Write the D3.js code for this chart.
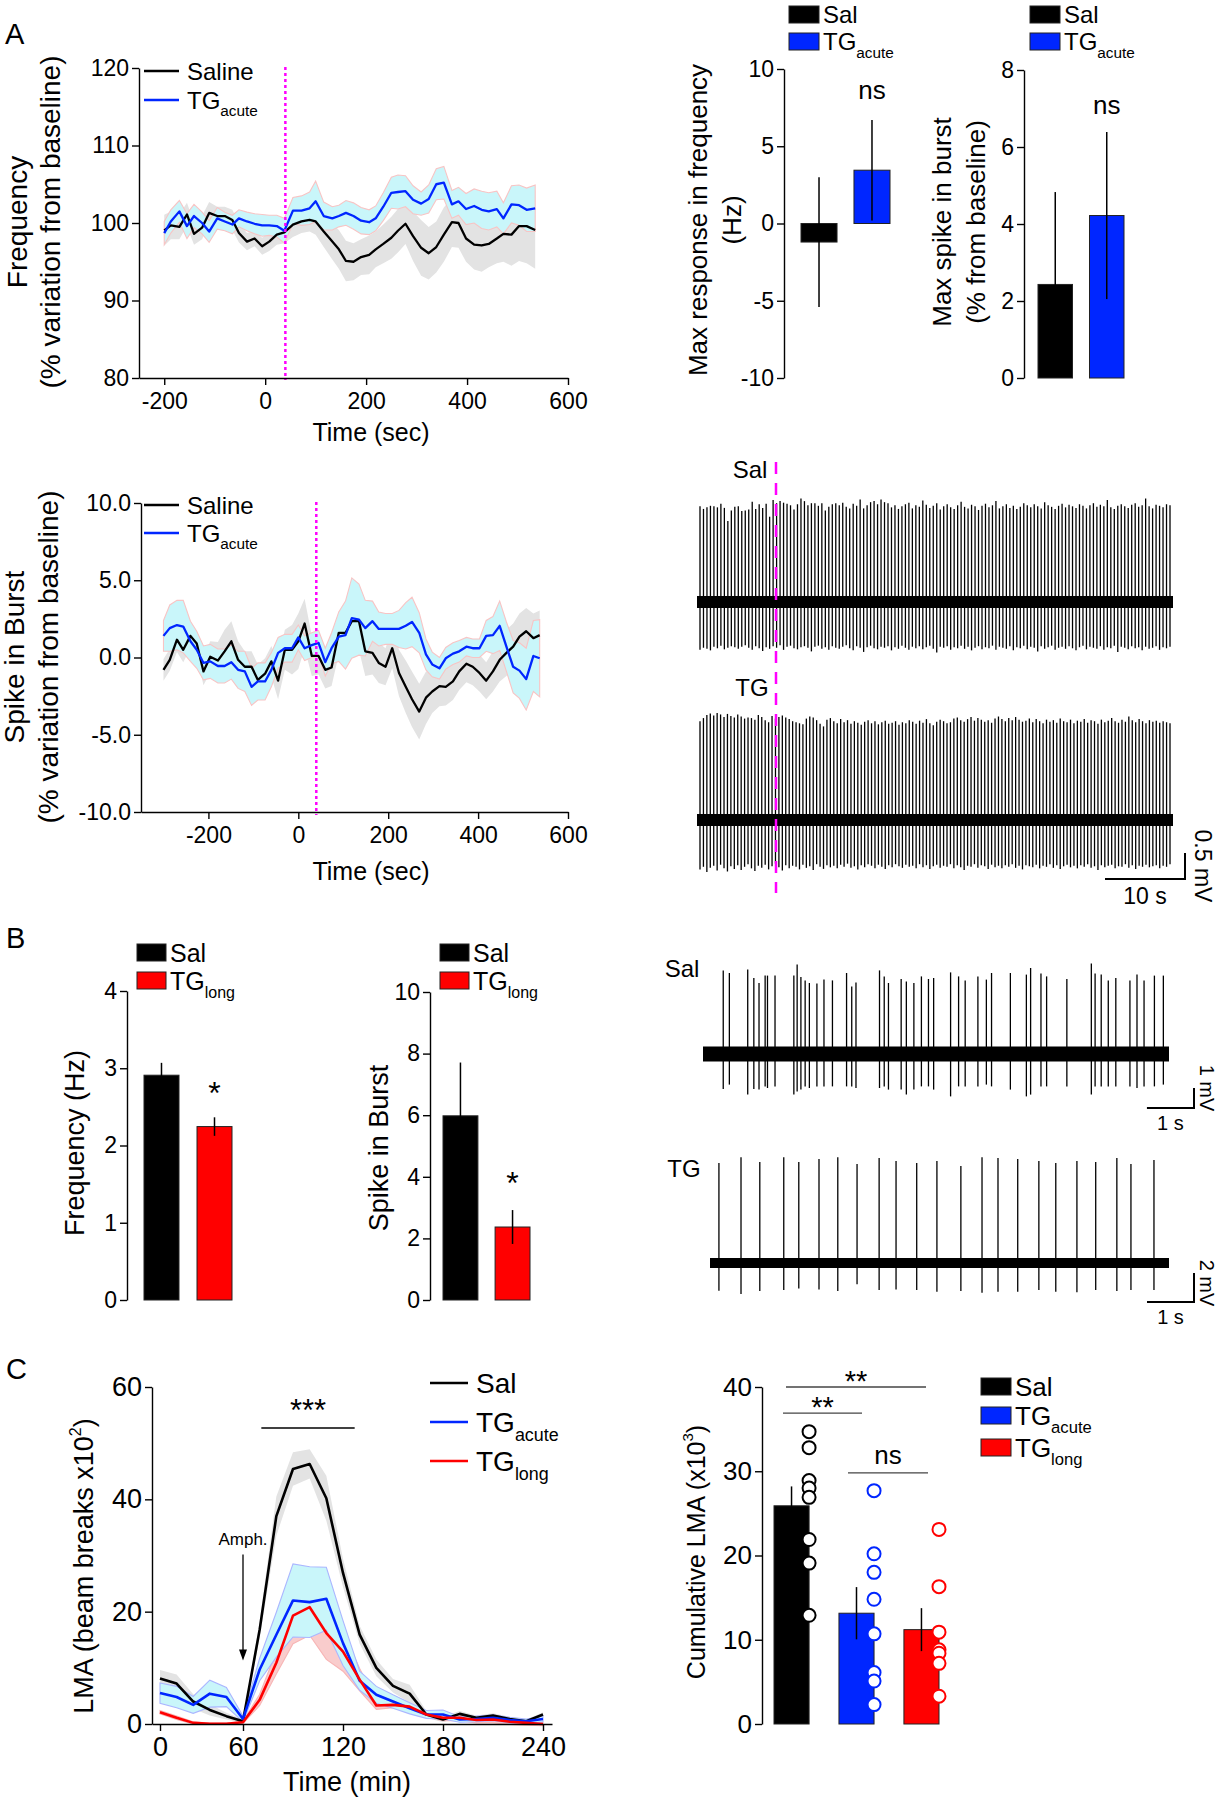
<!DOCTYPE html>
<html>
<head>
<meta charset="utf-8">
<script src="https://cdn.jsdelivr.net/npm/d3@7"></script>
<style>
  body { margin: 0; background: #fff; }
</style>
</head>
<body>
<script>
// ---------- A: time courses (% variation from baseline) ----------
var freqTime = [-200,-187,-170,-155,-141,-125,-111,-95,-80,-65,-52,-36,-21,-6,8,23,38,55,72,88,
  100,116,133,146,160,175,190,206,219,234,250,263,278,293,309,324,339,354,370,383,
  398,414,429,443,459,472,488,503,518,535];
var freqSal = [99.05,99.7,99.5,101.1,98.6,99.4,101.3,100.9,100.9,100.4,98.7,97.6,98.0,97.0,97.6,98.5,98.8,99.8,100.2,100.4,
  100.2,98.9,97.6,96.6,95.1,95.0,95.6,95.9,96.6,97.3,98.1,99.0,99.9,98.3,96.8,96.1,96.9,98.5,100.1,100.0,
  98.0,97.2,97.1,97.3,98.0,98.6,98.5,99.6,99.6,99.1];
var freqSalSem = [2.0,1.8,1.6,1.5,1.4,1.5,1.4,1.2,1.2,1.3,1.2,1.1,1.0,1.1,1.2,1.3,1.4,1.6,1.5,1.5,
  1.7,2.0,2.3,2.5,2.6,2.4,2.3,2.5,2.3,2.5,2.7,2.8,2.6,3.2,3.6,3.4,3.3,3.5,3.2,3.2,
  3.0,3.2,3.4,3.0,3.2,3.6,4.0,4.5,4.8,5.0];
var freqTG = [98.7,100.2,101.5,99.6,100.9,100.0,98.9,100.6,100.2,99.8,100.6,100.2,99.9,99.7,99.7,99.6,99.0,101.6,101.6,101.9,
  102.8,100.9,100.6,100.9,101.3,100.9,100.3,100.1,100.6,102.1,103.9,104.0,104.1,103.0,102.5,103.1,105.0,105.2,102.4,102.8,
  101.8,102.2,101.7,101.5,101.8,100.6,102.4,102.3,101.7,101.9];
var freqTGSem = [1.5,1.5,1.4,1.6,1.5,1.4,1.4,1.4,1.2,1.2,1.1,1.2,1.3,1.4,1.3,1.4,1.6,1.7,1.9,2.1,
  2.6,1.8,1.5,1.4,1.6,1.7,1.7,1.6,1.6,1.8,2.0,2.2,2.0,1.8,1.5,1.8,2.0,2.1,1.8,1.8,
  2.0,2.2,2.4,2.4,2.3,2.0,2.4,2.6,2.8,3.0];

var burstTime = [-300,-286,-270,-256,-240,-226,-211,-196,-179,-164,-149,-134,-119,-104,-90,-74,-60,-45,-30,-14,
  0,14,30,45,60,74,90,105,119,135,149,165,179,194,209,224,239,253,269,284,
  298,314,328,344,358,374,388,403,418,433,448,463,478,492,507,523,537];
var burstSal = [-0.8,-0.15,1.15,0.5,1.4,0.9,-0.9,0.05,-0.2,0.4,1.05,-0.15,-0.6,-0.6,-1.45,-1.05,-0.25,-1.5,0.5,0.5,
  1.05,2.2,0.1,0.1,-0.8,-0.65,1.6,1.6,2.35,2.35,0.4,0.3,-0.35,-0.6,0.6,-1.0,-1.9,-2.7,-3.5,-2.6,
  -2.2,-1.85,-1.9,-1.55,-0.9,-0.4,-0.6,-1.0,-1.5,-0.9,-0.15,0.3,0.7,1.35,1.7,1.25,1.45];
var burstSalSem = [0.7,0.7,0.8,0.8,0.8,0.8,0.9,1.0,1.2,1.4,1.3,1.2,1.0,1.0,1.0,1.0,1.0,1.2,1.3,1.6,
  1.8,1.6,1.3,1.2,1.2,1.2,1.4,1.6,1.8,1.9,1.6,1.4,1.3,1.2,1.3,1.5,1.7,1.8,1.8,1.7,
  1.4,1.3,1.2,1.2,1.2,1.2,1.2,1.2,1.2,1.3,1.4,1.5,1.5,1.5,1.5,1.6,1.6];
var burstTG = [1.4,1.9,2.1,2.0,1.05,0.5,-0.35,-0.25,-0.55,-0.55,-0.3,-0.8,-0.9,-1.9,-1.55,-1.55,-0.8,0.3,0.6,0.6,
  1.3,0.6,0.8,0.95,-0.3,0.6,1.35,1.45,2.55,2.45,1.9,2.35,1.85,1.85,1.85,1.85,2.05,2.3,1.6,0.2,
  -0.45,-0.7,-0.05,0.25,0.4,0.7,0.6,0.6,1.4,1.45,2.05,0.7,-0.6,-0.85,-1.4,0.1,-0.05];
var burstTGSem = [1.0,1.5,1.6,1.7,1.3,1.2,1.1,1.1,1.1,1.1,1.1,1.2,1.3,1.2,1.2,1.2,1.1,1.0,0.9,0.9,
  0.8,0.8,0.8,0.8,0.9,1.0,1.6,2.2,2.6,2.3,1.8,1.3,1.1,1.0,1.0,1.2,1.5,1.6,1.3,1.0,
  0.8,0.7,0.7,0.7,0.7,0.6,0.6,0.6,1.0,1.2,1.6,1.6,1.7,1.8,2.0,2.3,2.5];
var drugOnset = 40;

// ---------- A: max responses ----------
var acuteCats = ["Sal", "TGacute"];
var maxFreqMean = [-1.2, 3.45];
var maxFreqSem = [4.2, 3.25];
var maxBurstMean = [2.43, 4.22];
var maxBurstSem = [2.4, 2.17];

// ---------- A: example recordings (spike amplitudes, mV) ----------
var salA_up = [1.84,1.79,1.82,1.85,1.84,1.82,1.89,1.81,1.56,1.76,1.83,1.84,1.75,1.76,1.78,1.93,1.79,1.88,1.81,1.89,
  1.64,1.96,1.90,1.94,1.91,1.89,1.86,1.78,1.88,1.99,1.94,1.86,1.90,1.90,1.85,1.90,1.76,1.83,1.88,1.90,
  1.86,1.91,1.83,1.80,1.89,1.85,1.97,1.80,1.86,1.92,1.94,1.88,1.97,1.92,1.90,1.82,1.86,1.79,1.84,1.88,
  1.91,1.80,1.86,1.83,1.95,1.87,1.81,1.85,1.90,1.78,1.84,1.88,1.82,1.79,1.86,1.93,1.83,1.80,1.87,1.84,
  1.77,1.85,1.89,1.82,1.86,1.94,1.80,1.84,1.88,1.81,1.85,1.79,1.83,1.90,1.86,1.82,1.88,1.84,1.80,1.92,
  1.86,1.83,1.79,1.85,1.89,1.82,1.87,1.84,1.81,1.88,1.85,1.80,1.86,1.90,1.83,1.87,1.84,1.96,1.82,1.79,
  1.85,1.88,1.84,1.81,1.87,1.90,1.83,1.86,1.99,1.84,1.80,1.87,1.85,1.82,1.88,1.86];
var salA_dn = [0.92,0.88,0.90,0.93,0.86,0.89,0.84,0.91,0.88,0.85,0.87,0.90,0.86,0.83,0.88,0.92,0.85,0.89,0.94,0.87,
  0.90,0.85,0.88,0.83,0.92,0.86,0.84,0.89,0.91,0.87,0.85,0.88,0.95,0.86,0.84,0.90,0.87,0.92,0.85,0.88,
  0.90,0.86,0.83,0.89,0.93,0.85,0.88,0.96,0.87,0.84,0.89,0.91,0.86,0.88,0.85,0.93,0.87,0.90,0.84,0.88,
  0.92,0.86,0.89,0.85,0.91,0.87,0.84,0.90,0.97,0.86,0.88,0.85,0.92,0.87,0.89,0.84,0.90,0.86,0.93,0.88,
  0.85,0.91,0.87,0.89,0.84,0.92,0.86,0.88,0.90,0.85,0.93,0.87,0.89,0.84,0.91,0.86,0.88,0.95,0.85,0.90,
  0.87,0.84,0.92,0.88,0.86,0.90,0.85,0.89,0.93,0.87,0.84,0.91,0.86,0.88,0.90,0.85,0.92,0.87,0.89,0.84,
  0.96,0.86,0.88,0.91,0.85,0.89,0.87,0.93,0.86,0.90,0.88,0.85,0.92,0.87,0.89,0.86];
var tgA_up = [1.90,1.96,2.02,2.05,2.01,2.06,2.03,1.98,2.04,2.00,1.97,2.03,1.99,1.95,1.97,1.96,1.93,2.02,1.98,1.92,
  1.88,2.00,1.95,1.98,2.01,1.97,1.94,1.90,1.88,1.86,1.84,1.95,1.99,1.97,1.92,1.85,1.80,1.93,1.96,1.90,
  1.86,1.94,1.88,1.92,1.85,1.90,1.87,1.83,1.89,1.92,1.86,1.90,1.84,1.88,1.91,1.85,1.87,1.90,1.83,1.88,
  1.86,1.92,1.89,1.85,1.91,1.87,1.94,1.86,1.82,1.89,1.93,1.90,1.86,1.88,1.95,1.97,1.92,1.89,1.94,1.98,
  1.91,1.96,1.93,1.89,1.92,1.87,1.95,1.99,1.94,1.90,1.96,1.92,1.98,1.93,1.89,1.91,1.95,1.88,1.94,1.90,
  1.86,1.93,1.89,1.92,1.87,1.95,1.90,1.88,1.93,1.86,1.91,1.89,1.94,1.87,1.92,1.90,1.85,1.93,1.88,1.91,
  1.96,1.90,1.87,1.93,1.89,1.99,1.92,1.88,1.94,1.90,1.86,1.92,1.89,1.91,1.87,1.90,1.88,1.86];
var tgA_dn = [0.95,0.90,1.00,0.92,0.88,0.97,0.86,0.93,0.99,0.89,0.94,0.87,0.96,0.90,0.85,0.93,0.98,0.88,0.92,0.86,
  0.95,0.89,0.84,0.91,0.97,0.87,0.93,0.88,0.90,0.95,0.86,0.92,0.89,0.96,0.85,0.90,0.94,0.87,0.91,0.88,
  0.93,0.86,0.90,0.84,0.92,0.89,0.95,0.87,0.91,0.85,0.88,0.93,0.86,0.90,0.94,0.87,0.91,0.85,0.89,0.92,
  0.86,0.90,0.88,0.93,0.85,0.91,0.87,0.94,0.89,0.86,0.92,0.88,0.90,0.85,0.93,0.87,0.91,0.96,0.88,0.90,
  0.85,0.92,0.87,0.89,0.94,0.86,0.91,0.88,0.93,0.87,0.90,0.85,0.92,0.88,0.95,0.87,0.89,0.91,0.86,0.93,
  0.88,0.90,0.85,0.92,0.87,0.94,0.89,0.86,0.91,0.88,0.93,0.87,0.90,0.85,0.92,0.89,0.96,0.87,0.91,0.88,
  0.86,0.93,0.89,0.90,0.85,0.92,0.87,0.94,0.88,0.90,0.86,0.91,0.89,0.87,0.93,0.88,0.90,0.85];

// ---------- B: long-term treatment ----------
var longCats = ["Sal", "TGlong"];
var longFreqMean = [2.91, 2.245];
var longFreqSem = [0.16, 0.12];
var longBurstMean = [5.98, 2.37];
var longBurstSem = [1.73, 0.55];

// spike times (s) and amplitudes (mV)
var salB_t = [0.43,0.56,0.95,1.08,1.19,1.32,1.37,1.53,1.93,2.00,2.08,2.17,2.26,2.42,2.57,2.75,3.05,3.16,3.25,3.75,
  3.85,3.94,4.21,4.32,4.48,4.64,4.79,4.90,5.26,5.43,5.57,5.84,6.02,6.13,6.53,6.87,6.96,7.18,7.30,7.73,
  8.25,8.33,8.46,8.61,8.77,9.07,9.22,9.37,9.59,9.78];
var salB_up = [4.18,4.05,4.22,3.80,3.55,3.92,3.92,3.92,3.92,4.47,3.85,3.68,3.55,3.52,3.72,3.68,4.05,3.38,3.58,4.18,
  3.88,3.55,3.75,3.63,3.55,3.88,3.75,3.80,4.08,3.88,3.68,3.88,3.72,4.05,4.05,3.97,4.30,4.02,3.88,3.75,
  4.52,4.02,3.97,3.68,3.80,3.68,3.97,3.68,3.92,3.92];
var salB_dn = [1.75,1.53,2.03,1.75,1.78,1.62,1.70,1.62,2.03,1.87,1.78,1.62,1.70,1.62,1.62,1.62,1.62,1.62,1.70,1.70,
  1.62,1.78,1.78,2.03,1.78,1.62,1.62,1.78,2.12,1.62,1.62,1.62,1.53,1.62,1.78,2.12,2.03,1.62,1.62,1.62,
  2.03,1.62,1.62,1.62,1.62,1.62,1.70,1.62,1.62,1.53];
var tgB_t = [0.19,0.66,1.06,1.57,1.89,2.32,2.72,3.13,3.60,3.96,4.40,4.83,5.34,5.79,6.13,6.55,7.00,7.36,7.81,8.21,
  8.66,8.96,9.45];
var tgB_up = [6.90,7.30,6.97,7.30,6.97,7.17,7.30,6.83,7.24,7.03,6.90,7.03,6.69,7.30,7.24,7.17,7.03,6.90,7.03,6.97,
  7.24,6.83,7.10];
var tgB_dn = [1.91,2.14,1.93,1.86,1.75,1.82,1.93,1.47,1.86,1.82,1.86,1.98,1.93,2.05,1.98,1.98,1.86,1.98,2.02,1.86,
  1.93,1.86,1.86];

// ---------- C: locomotor activity ----------
var lmaTime = [0,12,24,36,48,60,70,80,90,100,110,120,130,140,150,160,170,180,190,200,210,220,230,240];
var lmaSal = [8.1,7.2,4.0,2.5,1.4,0.5,16.8,37,45.4,46.3,40.2,26.9,15.9,10,6.8,5.4,1.7,0.8,1.8,1.1,1.5,0.9,0.5,1.7];
var lmaSalSem = [1.5,1.6,1.3,1.0,0.6,0.3,1.5,3.5,3.0,2.6,4.0,2.5,1.6,1.5,1.2,1.6,0.6,0.5,0.5,0.4,0.4,0.4,0.3,0.4];
var lmaTGa = [5.5,4.8,3.4,5.4,4.8,0.9,9.7,15.9,22.0,21.7,22.3,14.4,7.7,5.2,4.0,2.8,1.7,1.7,0.8,0.9,1.1,0.7,0.5,0.9];
var lmaTGaSem = [1.8,1.9,1.5,2.4,1.7,0.5,2.0,4.0,6.5,6.3,5.6,4.0,1.7,1.5,1.2,1.0,0.7,0.8,0.5,0.5,0.5,0.5,0.4,0.5];
var lmaTGl = [2.1,1.1,0.2,0.05,0.05,0.3,4.3,10.9,19.3,20.8,16.2,12.9,7.9,3.3,3.4,3.1,1.7,1.1,1.1,0.7,0.8,0.4,0.2,0.0];
var lmaTGlSem = [0.3,0.3,0.2,0.1,0.1,0.2,1.0,2.0,5.0,5.0,4.7,3.5,2.0,0.7,0.5,0.5,0.5,0.5,0.5,0.5,0.6,0.5,0.4,0.3];
var lmaTicks = [0, 60, 120, 180, 240];
var sigSpan = [71, 127];
var amphArrow = [30.2, 11.3];

var cumCats = ["Sal", "TGacute", "TGlong"];
var cumMean = [25.9, 13.15, 11.2];
var cumSem = [2.3, 3.1, 2.55];
var cumDots = [
  [34.7, 32.8, 28.9, 28.0, 26.9, 21.9, 19.1, 12.9],
  [27.7, 20.2, 18.0, 14.8, 10.7, 6.1, 5.1, 2.3],
  [23.1, 16.3, 10.9, 8.8, 8.4, 7.2, 3.3]
];

var FONT = '"Liberation Sans", Arial, Helvetica, sans-serif';
var BLUE = "#0026ff", RED = "#ff0000";

var svg = d3.select("body").append("svg")
  .attr("width", 1220).attr("height", 1800)
  .style("font-family", FONT)
  .style("background", "#fff");

function styleAxis(sel, size) {
  sel.style("font-family", FONT).style("font-size", size + "px");
  sel.selectAll("path, line").attr("stroke", "#000").attr("stroke-width", 1.4);
  sel.selectAll("text").attr("fill", "#000");
}

function txt(x, y, s, size, anchor) {
  return svg.append("text").attr("x", x).attr("y", y)
    .attr("text-anchor", anchor || "start")
    .style("font-size", size + "px").text(s);
}

function subTxt(x, y, main, sub, size, anchor) {
  var t = svg.append("text").attr("x", x).attr("y", y)
    .attr("text-anchor", anchor || "start")
    .style("font-size", size + "px");
  t.append("tspan").text(main);
  if (sub) t.append("tspan").attr("dy", size * 0.32).style("font-size", (size * 0.64) + "px").text(sub);
  return t;
}

function vTxt(x, y, s, size) {
  return svg.append("text")
    .attr("transform", "translate(" + x + "," + y + ") rotate(-90)")
    .attr("text-anchor", "middle").attr("dominant-baseline", "central")
    .style("font-size", size + "px").text(s);
}

function band(x, y, times, mean, sem, fill, stroke) {
  var area = d3.area()
    .x(function (d, i) { return x(times[i]); })
    .y0(function (d, i) { return y(mean[i] - sem[i]); })
    .y1(function (d, i) { return y(mean[i] + sem[i]); });
  svg.append("path").datum(mean).attr("d", area)
    .attr("fill", fill).attr("stroke", stroke || "none").attr("stroke-width", 1.1);
}

function line(x, y, times, mean, color, w) {
  var ln = d3.line()
    .x(function (d, i) { return x(times[i]); })
    .y(function (d) { return y(d); });
  svg.append("path").datum(mean).attr("d", ln)
    .attr("fill", "none").attr("stroke", color).attr("stroke-width", w || 2.3)
    .attr("stroke-linejoin", "round");
}

function lineLegend(x, y, len, color, main, sub, size, w) {
  svg.append("line").attr("x1", x).attr("x2", x + len).attr("y1", y).attr("y2", y)
    .attr("stroke", color).attr("stroke-width", w || 2.3);
  subTxt(x + len + 8, y + size * 0.36, main, sub, size);
}

function boxLegend(x, y, w, h, color, main, sub, size) {
  svg.append("rect").attr("x", x).attr("y", y).attr("width", w).attr("height", h)
    .attr("fill", color).attr("stroke", "#222").attr("stroke-width", 1);
  subTxt(x + w + 4, y + h / 2 + size * 0.36, main, sub, size);
}

function bars(x, y, cats, mean, sem, colors) {
  svg.append("g").selectAll("rect").data(cats).enter().append("rect")
    .attr("x", function (d) { return x(d); })
    .attr("width", x.bandwidth())
    .attr("y", function (d, i) { return Math.min(y(mean[i]), y(0)); })
    .attr("height", function (d, i) { return Math.abs(y(mean[i]) - y(0)); })
    .attr("fill", function (d, i) { return colors[i]; })
    .attr("stroke", "#222").attr("stroke-width", 1);
  svg.append("g").selectAll("line").data(cats).enter().append("line")
    .attr("x1", function (d) { return x(d) + x.bandwidth() / 2; })
    .attr("x2", function (d) { return x(d) + x.bandwidth() / 2; })
    .attr("y1", function (d, i) { return y(mean[i] - sem[i]); })
    .attr("y2", function (d, i) { return y(mean[i] + sem[i]); })
    .attr("stroke", "#000").attr("stroke-width", 1.5);
}

function trace(xPos, ups, dns, base, pxPerMv, x0, x1, noiseW) {
  var y = d3.scaleLinear().domain([0, 1]).range([base, base - pxPerMv]);
  svg.append("line").attr("x1", x0).attr("x2", x1).attr("y1", base).attr("y2", base)
    .attr("stroke", "#000").attr("stroke-width", noiseW);
  svg.append("g").selectAll("line").data(ups).enter().append("line")
    .attr("x1", function (d, i) { return xPos(i); })
    .attr("x2", function (d, i) { return xPos(i); })
    .attr("y1", function (d) { return y(d); })
    .attr("y2", function (d, i) { return y(-dns[i]); })
    .attr("stroke", "#000").attr("stroke-width", 1.3);
  return y;
}

function scaleBar(xRight, yBottom, lenX, lenY, labX, labY, tx, ty, size) {
  svg.append("path")
    .attr("d", "M" + (xRight - lenX) + "," + yBottom + "H" + xRight + "V" + (yBottom - lenY))
    .attr("fill", "none").attr("stroke", "#000").attr("stroke-width", 2);
  txt(xRight - lenX / 2, yBottom + size + 2, labX, size, "middle");
  svg.append("text")
    .attr("transform", "translate(" + tx + "," + ty + ") rotate(90)")
    .attr("text-anchor", "middle").attr("dominant-baseline", "central")
    .style("font-size", size + "px").text(labY);
}

var fmtPlain = function (d) { return String(d); };

// ================= Panel A =================
txt(5, 44, "A", 29);

// A1 frequency time course
var xA1 = d3.scaleLinear().domain([-250, 600]).range([139, 568]);
var yA1 = d3.scaleLinear().domain([80, 120]).range([378, 68]);
band(xA1, yA1, freqTime, freqSal, freqSalSem, "#e3e3e3");
band(xA1, yA1, freqTime, freqTG, freqTGSem, "#c9f6fa", "#f8c4c4");
line(xA1, yA1, freqTime, freqSal, "#000");
line(xA1, yA1, freqTime, freqTG, BLUE);
svg.append("line").attr("x1", xA1(drugOnset)).attr("x2", xA1(drugOnset)).attr("y1", 67).attr("y2", 380)
  .attr("stroke", "#ff00ff").attr("stroke-width", 2.5).attr("stroke-dasharray", "3,3");
svg.append("g").attr("transform", "translate(0,378)")
  .call(d3.axisBottom(xA1).tickValues([-200, 0, 200, 400, 600]).tickFormat(fmtPlain).tickSize(7).tickPadding(8).tickSizeOuter(0))
  .call(styleAxis, 23);
svg.append("g").attr("transform", "translate(139,0)")
  .call(d3.axisLeft(yA1).tickValues([80, 90, 100, 110, 120]).tickFormat(fmtPlain).tickSize(7).tickPadding(3).tickSizeOuter(0))
  .call(styleAxis, 23);
txt(371, 441, "Time (sec)", 25, "middle");
vTxt(17, 222, "Frequency", 28);
vTxt(50, 222, "(% variation from baseline)", 28);
lineLegend(144, 71, 35, "#000", "Saline", "", 24);
lineLegend(144, 100, 35, BLUE, "TG", "acute", 24);

// A2 burst time course
var xA2 = d3.scaleLinear().domain([-350, 600]).range([141, 568]);
var yA2 = d3.scaleLinear().domain([-10, 10]).range([812, 503]);
band(xA2, yA2, burstTime, burstSal, burstSalSem, "#e3e3e3");
band(xA2, yA2, burstTime, burstTG, burstTGSem, "#c9f6fa", "#f8c4c4");
line(xA2, yA2, burstTime, burstSal, "#000");
line(xA2, yA2, burstTime, burstTG, BLUE);
svg.append("line").attr("x1", xA2(drugOnset)).attr("x2", xA2(drugOnset)).attr("y1", 502).attr("y2", 815)
  .attr("stroke", "#ff00ff").attr("stroke-width", 2.5).attr("stroke-dasharray", "3,3");
svg.append("g").attr("transform", "translate(0,812)")
  .call(d3.axisBottom(xA2).tickValues([-200, 0, 200, 400, 600]).tickFormat(fmtPlain).tickSize(7).tickPadding(8).tickSizeOuter(0))
  .call(styleAxis, 23);
svg.append("g").attr("transform", "translate(141,0)")
  .call(d3.axisLeft(yA2).tickValues([-10, -5, 0, 5, 10]).tickFormat(function (d) { return d.toFixed(1); }).tickSize(7).tickPadding(3).tickSizeOuter(0))
  .call(styleAxis, 23);
txt(371, 880, "Time (sec)", 25, "middle");
vTxt(14, 657, "Spike in Burst", 28);
vTxt(48, 657, "(% variation from baseline)", 28);
lineLegend(144, 505, 35, "#000", "Saline", "", 24);
lineLegend(144, 533, 35, BLUE, "TG", "acute", 24);

// A3 max response in frequency
var xA3 = d3.scaleBand().domain(acuteCats).range([801, 890]).paddingInner(0.32);
var yA3 = d3.scaleLinear().domain([-10, 10]).range([378, 69]);
bars(xA3, yA3, acuteCats, maxFreqMean, maxFreqSem, ["#000", BLUE]);
svg.append("g").attr("transform", "translate(784,0)")
  .call(d3.axisLeft(yA3).tickValues([-10, -5, 0, 5, 10]).tickFormat(fmtPlain).tickSize(7).tickPadding(3).tickSizeOuter(0))
  .call(styleAxis, 23);
txt(xA3("TGacute") + xA3.bandwidth() / 2, 99, "ns", 26, "middle");
vTxt(698, 220, "Max response in frequency", 26);
vTxt(732, 220, "(Hz)", 26);
boxLegend(789, 6, 30, 17, "#000", "Sal", "", 24);
boxLegend(789, 33, 30, 17, BLUE, "TG", "acute", 24);

// A4 max spike in burst
var xA4 = d3.scaleBand().domain(acuteCats).range([1038, 1124]).paddingInner(0.33);
var yA4 = d3.scaleLinear().domain([0, 8]).range([378, 70]);
bars(xA4, yA4, acuteCats, maxBurstMean, maxBurstSem, ["#000", BLUE]);
svg.append("g").attr("transform", "translate(1024,0)")
  .call(d3.axisLeft(yA4).tickValues([0, 2, 4, 6, 8]).tickFormat(fmtPlain).tickSize(7).tickPadding(3).tickSizeOuter(0))
  .call(styleAxis, 23);
txt(xA4("TGacute") + xA4.bandwidth() / 2, 114, "ns", 26, "middle");
vTxt(942, 222, "Max spike in burst", 26);
vTxt(976, 222, "(% from baseline)", 26);
boxLegend(1030, 6, 30, 17, "#000", "Sal", "", 24);
boxLegend(1030, 33, 30, 17, BLUE, "TG", "acute", 24);

// A5 example recordings
var tA = d3.scaleLinear().domain([0, 59.5]).range([697, 1173]);
var posSalA = d3.scalePoint().domain(d3.range(salA_up.length)).range([700, 1170]);
var posTgA = d3.scalePoint().domain(d3.range(tgA_up.length)).range([700, 1170]);
var ySalA = trace(posSalA, salA_up, salA_dn, 602, 52, 697, 1173, 12);
var yTgA = trace(posTgA, tgA_up, tgA_dn, 820, 52, 697, 1173, 12);
svg.append("line").attr("x1", 776).attr("x2", 776).attr("y1", 462).attr("y2", 893)
  .attr("stroke", "#ff00ff").attr("stroke-width", 2.5).attr("stroke-dasharray", "12,9");
txt(750, 478, "Sal", 24, "middle");
txt(752, 696, "TG", 24, "middle");
scaleBar(1185, 879, tA(10) - tA(0), yTgA(0) - yTgA(0.5), "10 s", "0.5 mV", 1203, 866, 23);

// ================= Panel B =================
txt(6, 948, "B", 29);

var xB1 = d3.scaleBand().domain(longCats).range([144, 232]).paddingInner(0.34);
var yB1 = d3.scaleLinear().domain([0, 4]).range([1300, 991]);
bars(xB1, yB1, longCats, longFreqMean, longFreqSem, ["#000", RED]);
svg.append("g").attr("transform", "translate(127,0)")
  .call(d3.axisLeft(yB1).tickValues([0, 1, 2, 3, 4]).tickFormat(fmtPlain).tickSize(7).tickPadding(3).tickSizeOuter(0))
  .call(styleAxis, 23);
txt(xB1("TGlong") + xB1.bandwidth() / 2, 1104, "*", 32, "middle");
vTxt(75, 1143, "Frequency (Hz)", 27);
boxLegend(137, 944, 29, 17, "#000", "Sal", "", 25);
boxLegend(137, 972, 29, 17, RED, "TG", "long", 25);

var xB2 = d3.scaleBand().domain(longCats).range([443, 530]).paddingInner(0.33);
var yB2 = d3.scaleLinear().domain([0, 10]).range([1300, 992]);
bars(xB2, yB2, longCats, longBurstMean, longBurstSem, ["#000", RED]);
svg.append("g").attr("transform", "translate(430,0)")
  .call(d3.axisLeft(yB2).tickValues([0, 2, 4, 6, 8, 10]).tickFormat(fmtPlain).tickSize(7).tickPadding(3).tickSizeOuter(0))
  .call(styleAxis, 23);
txt(xB2("TGlong") + xB2.bandwidth() / 2, 1194, "*", 32, "middle");
vTxt(379, 1148, "Spike in Burst", 27);
boxLegend(440, 944, 29, 17, "#000", "Sal", "", 25);
boxLegend(440, 972, 29, 17, RED, "TG", "long", 25);

// B traces
var tSalB = d3.scaleLinear().domain([0, 9.9]).range([703, 1169]);
var tTgB = d3.scaleLinear().domain([0, 9.77]).range([710, 1169]);
var ySalB = trace(function (i) { return tSalB(salB_t[i]); }, salB_up, salB_dn, 1054, 20, 703, 1169, 15);
var yTgB = trace(function (i) { return tTgB(tgB_t[i]); }, tgB_up, tgB_dn, 1263, 14.5, 710, 1169, 10);
txt(682, 977, "Sal", 24, "middle");
txt(684, 1177, "TG", 24, "middle");
scaleBar(1194, 1108, tSalB(1) - tSalB(0), ySalB(0) - ySalB(1), "1 s", "1 mV", 1207, 1088, 20);
scaleBar(1194, 1302, tTgB(1) - tTgB(0), yTgB(0) - yTgB(2), "1 s", "2 mV", 1207, 1283, 20);

// ================= Panel C =================
txt(6, 1379, "C", 29);

var xC1 = d3.scaleLinear().domain([-6, 0, 60, 240, 245]).range([152, 160, 243, 543, 552]);
var yC1 = d3.scaleLinear().domain([0, 60]).range([1724, 1387]);
band(xC1, yC1, lmaTime, lmaSal, lmaSalSem, "#e3e3e3");
band(xC1, yC1, lmaTime, lmaTGl, lmaTGlSem, "#f9cccc", "#f7b5b5");
band(xC1, yC1, lmaTime, lmaTGa, lmaTGaSem, "#c9f6fa", "#aab6ff");
line(xC1, yC1, lmaTime, lmaSal, "#000", 2.6);
line(xC1, yC1, lmaTime, lmaTGa, BLUE, 2.6);
line(xC1, yC1, lmaTime, lmaTGl, RED, 2.6);
svg.append("g").attr("transform", "translate(0,1724)")
  .call(d3.axisBottom(xC1).tickValues(lmaTicks).tickFormat(fmtPlain).tickSize(7).tickPadding(6).tickSizeOuter(0))
  .call(styleAxis, 27);
svg.append("g").attr("transform", "translate(152,0)")
  .call(d3.axisLeft(yC1).tickValues([0, 20, 40, 60]).tickFormat(fmtPlain).tickSize(7).tickPadding(3).tickSizeOuter(0))
  .call(styleAxis, 27);
txt(347, 1791, "Time (min)", 27, "middle");
var lmaLab = svg.append("text")
  .attr("transform", "translate(84,1566) rotate(-90)")
  .attr("text-anchor", "middle").attr("dominant-baseline", "central")
  .style("font-size", "27px");
lmaLab.append("tspan").text("LMA (beam breaks x10");
lmaLab.append("tspan").attr("dy", -9).style("font-size", "16px").text("2");
lmaLab.append("tspan").attr("dy", 9).text(")");
// significance bar and amphetamine arrow
svg.append("line").attr("x1", xC1(sigSpan[0])).attr("x2", xC1(sigSpan[1])).attr("y1", 1428).attr("y2", 1428)
  .attr("stroke", "#000").attr("stroke-width", 1.3);
txt((xC1(sigSpan[0]) + xC1(sigSpan[1])) / 2, 1421, "***", 31, "middle");
var ax = xC1(60);
svg.append("line").attr("x1", ax).attr("x2", ax).attr("y1", yC1(amphArrow[0])).attr("y2", yC1(amphArrow[1]) - 8)
  .attr("stroke", "#000").attr("stroke-width", 1.3);
svg.append("path")
  .attr("d", "M" + (ax - 4) + "," + (yC1(amphArrow[1]) - 11) + "L" + ax + "," + yC1(amphArrow[1]) + "L" + (ax + 4) + "," + (yC1(amphArrow[1]) - 11) + "Z")
  .attr("fill", "#000");
txt(ax, 1545, "Amph.", 17, "middle");
lineLegend(430, 1383, 38, "#000", "Sal", "", 28, 2.6);
lineLegend(430, 1422, 38, BLUE, "TG", "acute", 28, 2.6);
lineLegend(430, 1461, 38, RED, "TG", "long", 28, 2.6);

// C2 cumulative LMA
var xC2 = d3.scaleBand().domain(cumCats).range([774, 939]).paddingInner(0.46);
var yC2 = d3.scaleLinear().domain([0, 40]).range([1724, 1387]);
var cumColors = ["#000", BLUE, RED];
bars(xC2, yC2, cumCats, cumMean, cumSem, cumColors);
cumCats.forEach(function (c, k) {
  svg.append("g").selectAll("circle").data(cumDots[k]).enter().append("circle")
    .attr("cx", xC2(c) + xC2.bandwidth())
    .attr("cy", function (d) { return yC2(d); })
    .attr("r", 6.5)
    .attr("fill", "#fff")
    .attr("stroke", cumColors[k]).attr("stroke-width", 2);
});
svg.append("g").attr("transform", "translate(762,0)")
  .call(d3.axisLeft(yC2).tickValues([0, 10, 20, 30, 40]).tickFormat(fmtPlain).tickSize(7).tickPadding(3).tickSizeOuter(0))
  .call(styleAxis, 26);
function sigLine(x1, x2, v, label, size, dy) {
  svg.append("line").attr("x1", x1).attr("x2", x2).attr("y1", yC2(v)).attr("y2", yC2(v))
    .attr("stroke", "#444").attr("stroke-width", 1.3);
  txt((x1 + x2) / 2, yC2(v) + dy, label, size, "middle");
}
sigLine(786, 926, 40, "**", 29, 4);
sigLine(783, 862, 36.9, "**", 29, 4);
sigLine(848, 928, 29.8, "ns", 26, -9);
var cumLab = svg.append("text")
  .attr("transform", "translate(696,1552) rotate(-90)")
  .attr("text-anchor", "middle").attr("dominant-baseline", "central")
  .style("font-size", "25px");
cumLab.append("tspan").text("Cumulative LMA (x10");
cumLab.append("tspan").attr("dy", -9).style("font-size", "15px").text("3");
cumLab.append("tspan").attr("dy", 9).text(")");
boxLegend(981, 1378, 30, 17, "#000", "Sal", "", 26);
boxLegend(981, 1407, 30, 17, BLUE, "TG", "acute", 26);
boxLegend(981, 1439, 30, 17, RED, "TG", "long", 26);
</script>
</body>
</html>
